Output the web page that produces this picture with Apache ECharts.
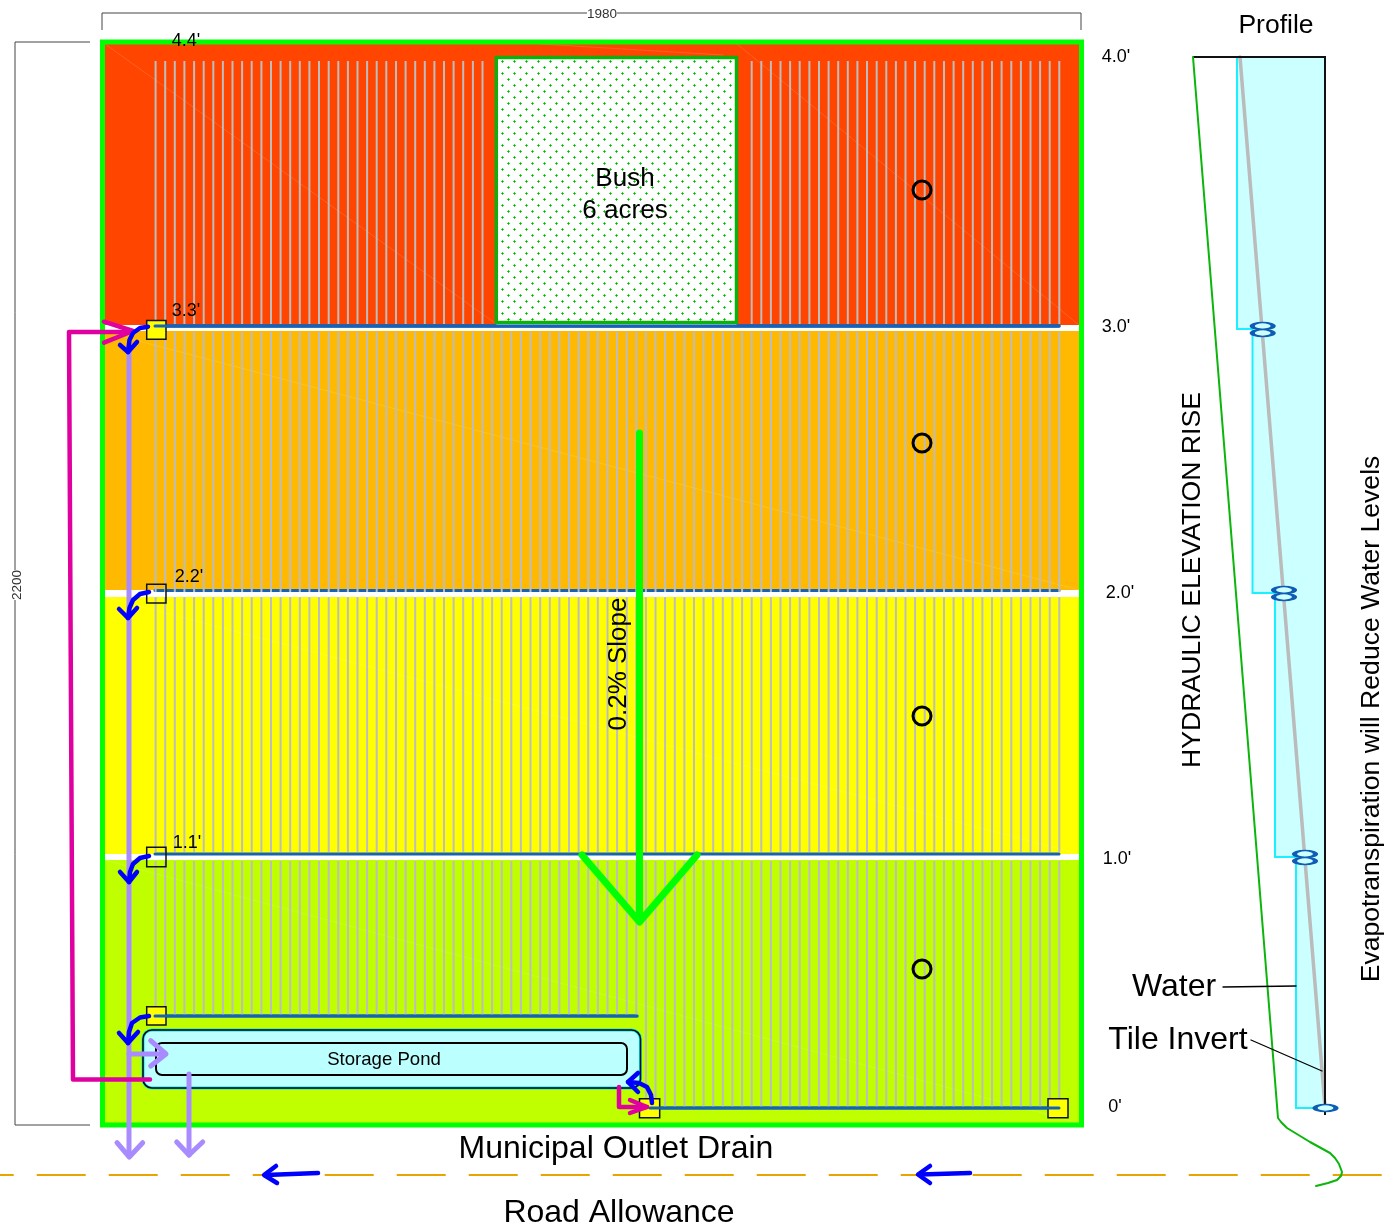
<!DOCTYPE html>
<html><head><meta charset="utf-8">
<style>html,body{margin:0;padding:0;background:#fff}#c{width:1397px;height:1228px}</style>
<script src="https://cdn.jsdelivr.net/npm/echarts@6/dist/echarts.min.js"></script>
</head><body><div id="c"></div>
<script>
// ---- plan geometry, in drawing units ----
const zoneBands = [[105,44,1079,325,'#FF4500'],[105,331,1079,590,'#FFB900'],[105,597,1079,854,'#FFFF00'],[105,860,1079,1123,'#BFFF00']];
const tileX = [155.6,165.2,174.8,184.4,194.1,203.7,213.3,222.9,232.5,242.1,251.7,261.4,271.0,280.6,290.2,299.8,309.4,319.0,328.7,338.3,347.9,357.5,367.1,376.7,386.3,396.0,405.6,415.2,424.8,434.4,444.0,453.6,463.2,472.9,482.5,492.1,501.7,511.3,520.9,530.5,540.2,549.8,559.4,569.0,578.6,588.2,597.8,607.5,617.1,626.7,636.3,645.9,655.5,665.1,674.8,684.4,694.0,703.6,713.2,722.8,732.4,742.1,751.7,761.3,770.9,780.5,790.1,799.7,809.4,819.0,828.6,838.2,847.8,857.4,867.0,876.7,886.3,895.9,905.5,915.1,924.7,934.3,944.0,953.6,963.2,972.8,982.4,992.0,1001.6,1011.3,1020.9,1030.5,1040.1,1049.7,1059.3];
const tileRunZone1 = [61,324];
const tileRunZone2 = [332,592];
const tileRunZone3 = [597,852];
const tileRunZone4West = [861,1016];
const tileRunZone4East = [861,1108];
const mains = [[[155,326],[1059,326]],[[155,590.5],[1059,590.5]],[[155,854],[1059,854]],[[155,1016],[637,1016]],[[650,1108],[1059,1108]]];
const faintDiagonals = [[[105,44],[495,323]],[[737,44],[1079,325]],[[540,44],[723,55]],[[105,332],[1079,590]],[[105,597],[1079,854]],[[105,860],[1079,1123]],[[200,1043],[627,1075]],[[1240,60],[1325,329]]];
const fieldFrame = [102.5,42,1081.5,1125];
const bushBlock = [496.3,57.5,736.5,322.5];
const controlBoxes = [[146.7,320.5,166,339.3,'#FFFF00'],[146.7,584.3,166,603,'none'],[146.7,847.3,166,866.7,'none'],[146.7,1006.7,166,1025,'#FFFF00'],[639.5,1098.7,659.7,1117.7,'#FFFF00'],[1048,1098.7,1068,1117.7,'#FFFF00']];
const pondOuter = [143,1030,640.5,1088];
const pondInner = [156,1043,627,1075];
const wellPoints = [[922,190],[922,443],[922,716],[922,969]];
const magentaPaths = [[[150,1079.5],[73,1079.5],[69,332],[130,332]],[[104,321.7],[133,331],[104,342.7]],[[619,1087],[619,1107],[647,1107]],[[630,1100],[647,1107],[630,1113]]];
const purplePaths = [[[129,350],[129,1155]],[[117,1142.7],[129.3,1157],[142.7,1142.7]],[[129,1054],[164,1054]],[[150.7,1040.7],[166,1054],[150.7,1066]],[[189,1074],[189,1155]],[[176.7,1142],[189,1155],[202.7,1142]]];
const blueCurves = [
 [[148,326.7],[140,328],[133,333],[129.5,340],[128,352]],[[120,345],[128,352],[137,342]],
 [[149,592],[140,594],[133,600],[129.5,608],[128,618]],[[119,609],[128,618],[137,608]],
 [[149,856],[140,858],[133,864],[130,872],[129,882]],[[120,872],[129,882],[137,872]],
 [[149,1016],[140,1017.5],[132,1023],[129,1032],[128,1043]],[[119,1033],[128,1043],[138,1032]],
 [[652,1103],[651,1095],[647,1087],[639,1083],[628,1082]],[[638,1073],[628,1082],[638,1092]],
 [[318,1173],[266,1175]],[[276,1166],[264,1175],[277,1183]],
 [[970,1173],[920,1174.5]],[[930,1166],[918,1174.5],[930,1183]]
];
const slopeArrow = [[[639.5,433],[639.5,921]],[[582,855],[639.5,922],[697,855]]];
const roadLine = [[0,1175],[1382.5,1175]];
const dimensionLines = [[[102,30],[102,13],[1081,13],[1081,30]],[[90,42],[15,42],[15,1125],[90,1125]]];
const profileWater = [[1237,57],[1237,329],[1252.5,329],[1252.5,593],[1275,593],[1275,857],[1296,857],[1296,1108],[1325,1108],[1325,57]];
const profileWaterEdge = [[1237,57],[1237,329],[1252.5,329],[1252.5,593],[1275,593],[1275,857],[1296,857],[1296,1108],[1325,1108]];
const profileFrame = [[1193,57],[1325,57],[1325,1115]];
const profileInvert = [[1240,57],[1325,1107]];
const profileGround = [[1193,57],[1278,1118],[1281,1122],[1287,1128],[1310,1142],[1330,1153],[1335,1158],[1339,1164],[1342,1172],[1341,1176],[1337,1180],[1328,1183],[1316,1186]];
const leaderLines = [[[1223,987],[1296,986]],[[1251,1040],[1322,1071]]];
const tileOutlets = [[1262.7,326],[1262.7,333],[1284,590],[1284,597],[1305,854],[1305,861],[1325.5,1108]];
// text, x, y, size, rotation (deg)
const labels = [
 ["4.4'",186,41,18,0],["3.3'",186,311,18,0],["2.2'",189,577,18,0],["1.1'",187,843,18,0],
 ["4.0'",1116,57,18,0],["3.0'",1116,327,18,0],["2.0'",1120,593,18,0],["1.0'",1117,859,18,0],["0'",1115,1107,18,0],
 ["Bush",625,179,26,0],["6 acres",625,211,26,0],["0.2% Slope",619,664,26,90],["Storage Pond",384,1060,18.6,0],
 ["Municipal Outlet Drain",616,1149,32,0],["Road Allowance",619,1213,32,0],
 ["Profile",1276,26,26.5,0],["Water",1174,987,32,0],["Tile Invert",1178,1040,32,0],
 ["HYDRAULIC ELEVATION RISE",1193,580,26.6,90],["Evapotranspiration will Reduce Water Levels",1372,719,26.6,90]
];
const dimLabels = [["1980",602,14,13.5,0],["2200",17,585,13.5,90]];

// ---- helpers ----
const FONT = '"Liberation Sans",Arial,sans-serif';
const series = [];
function pathSeries(name, paths, color, width, z, extra){
  paths.forEach((p,i)=>series.push(Object.assign({
    name:name+i,type:'line',data:p,symbol:'none',showSymbol:false,silent:true,animation:false,z:z,clip:false,
    lineStyle:{color:color,width:width,cap:'round',join:'round'}
  },extra||{})));
}
function rectSeries(name, rows, z, styleOf, r){
  series.push({name,type:'custom',silent:true,animation:false,z,clip:false,
    coordinateSystem:'cartesian2d',encode:{x:[0,2],y:[1,3]},
    data:rows.map(o=>o.slice(0,4)),
    renderItem(params,api){
      const a=api.coord([api.value(0),api.value(1)]),b=api.coord([api.value(2),api.value(3)]);
      return {type:'rect',shape:{x:a[0],y:a[1],width:b[0]-a[0],height:b[1]-a[1],r:r||0},style:styleOf(rows[params.dataIndex])};
    }});
}
function textSeries(name, rows, z, extra){
  series.push({name,type:'custom',silent:true,animation:false,z,clip:false,coordinateSystem:'cartesian2d',
    encode:{x:0,y:1},data:rows.map(t=>[t[1],t[2]]),
    renderItem(params,api){
      const t=rows[params.dataIndex],p=api.coord([api.value(0),api.value(1)]);
      return {type:'text',x:p[0],y:p[1],rotation:t[4]*Math.PI/180,
        style:Object.assign({text:t[0],x:0,y:0,align:'center',verticalAlign:'middle',fill:'#000',font:t[3]+'px '+FONT},extra||{})};
    }});
}
function bushPattern(){
  const c=document.createElement('canvas');c.width=12;c.height=12;
  const g=c.getContext('2d');g.fillStyle='#fff';g.fillRect(0,0,12,12);
  [[10,1],[4,7]].forEach(([x,y])=>{
    g.fillStyle='#2BDC2B';g.fillRect(x-1,y,3,1);g.fillRect(x,y-1,1,3);
    g.fillStyle='#0AA80A';g.fillRect(x,y,1,1);
  });
  return c;
}

// ---- marks ----
rectSeries('zones',zoneBands,1,o=>({fill:o[4]}));
pathSeries('diag',faintDiagonals,'rgba(255,255,255,0.18)',0.8,2);
pathSeries('main',mains.slice(0,1),'#1463B8',3.5,3);
pathSeries('mainB',mains.slice(1),'#1463B8',3,3);
const tileRows=[];
function addTiles(xs,run){xs.forEach(x=>{tileRows.push([x,run[0]],[x,run[1]],[null,null]);});}
addTiles(tileX.filter(x=>x<490||x>745),tileRunZone1);
addTiles(tileX,tileRunZone2);
addTiles(tileX,tileRunZone3);
addTiles(tileX.filter(x=>x<640),tileRunZone4West);
addTiles(tileX.filter(x=>x>640),tileRunZone4East);
pathSeries('tiles',[tileRows],'#BEBEBE',2,4,{connectNulls:false,lineStyle:{color:'#BDBDBD',width:2,cap:'butt'}});
rectSeries('bushBase',[[bushBlock[0],bushBlock[1],bushBlock[2],325.5]],5,()=>({fill:'#fff'}));
rectSeries('bush',[bushBlock],6,()=>({fill:{image:bushPattern(),repeat:'repeat'},stroke:'#0DB00D',lineWidth:3.5}));
rectSeries('frame',[fieldFrame],7,()=>({fill:'none',stroke:'#00FF00',lineWidth:5}));
rectSeries('boxes',controlBoxes,8,o=>({fill:o[4],stroke:'#111',lineWidth:1.5}));
pathSeries('mainOver',[mains[0],mains[3],mains[4]],'#1463B8',3,9);
rectSeries('pondOuter',[pondOuter],9,()=>({fill:'#BBFFFF',stroke:'#00E8F0',lineWidth:3}),9);
rectSeries('pondLine',[pondOuter],10,()=>({fill:'none',stroke:'#000',lineWidth:1.5}),9);
rectSeries('pondInner',[pondInner],10,()=>({fill:'#BBFFFF',stroke:'#000',lineWidth:2}),6);
series.push({name:'wells',type:'scatter',data:wellPoints,symbol:'circle',symbolSize:18,silent:true,animation:false,z:11,
  itemStyle:{color:'rgba(0,0,0,0)',borderColor:'#000',borderWidth:3,opacity:1}});
pathSeries('road',[roadLine],'#E8A400',2,3,{lineStyle:{color:'#E8A400',width:2,type:[49,23],dashOffset:35.3,cap:'butt'}});
pathSeries('slope',slopeArrow,'#00FF00',7,12,{lineStyle:{color:'#00FF00',width:7,cap:'round',join:'round'}});
pathSeries('purple',purplePaths,'#A78BFF',5,13);
pathSeries('magenta',magentaPaths,'#E000A0',4.5,14);
pathSeries('blue',blueCurves,'#0000FF',4.5,15);
pathSeries('dim',dimensionLines,'#444',1,3,{lineStyle:{color:'#444',width:1,cap:'butt',join:'miter'}});

// profile
series.push({name:'water',type:'custom',silent:true,animation:false,z:3,clip:false,coordinateSystem:'cartesian2d',
  encode:{x:0,y:1},data:profileWater,
  renderItem(params,api){
    if(params.dataIndex!==0) return null;
    return {type:'polygon',shape:{points:profileWater.map(p=>api.coord(p))},style:{fill:'#CCFFFF'}};
  }});
pathSeries('waterEdge',[profileWaterEdge],'#1CEFFF',2,4,{lineStyle:{color:'#1CEFFF',width:2,cap:'butt',join:'miter'}});
pathSeries('invert',[profileInvert],'#BBBBBB',3.5,5);
pathSeries('frameP',[profileFrame],'#111',2,6,{lineStyle:{color:'#111',width:2,cap:'butt',join:'miter'}});
pathSeries('ground',[profileGround],'#0BB50B',2,7);
pathSeries('leader',leaderLines,'#000',1.3,8);
series.push({name:'outlets',type:'scatter',data:tileOutlets,symbol:'circle',symbolSize:[21,7],silent:true,animation:false,z:9,
  itemStyle:{color:'#CCFFFF',borderColor:'#0F5CB4',borderWidth:3,opacity:1}});

textSeries('labels',labels,30);
textSeries('dimLabels',dimLabels,30,{backgroundColor:'#fff',fill:'#333'});

const chart=echarts.init(document.getElementById('c'),null,{renderer:'canvas',width:1397,height:1228});
chart.setOption({
  animation:false,backgroundColor:'#fff',
  grid:{left:0,right:0,top:0,bottom:0,containLabel:false},
  xAxis:{type:'value',min:0,max:1397,show:false},
  yAxis:{type:'value',min:0,max:1228,inverse:true,show:false},
  tooltip:{show:false},
  series
});
</script></body></html>
